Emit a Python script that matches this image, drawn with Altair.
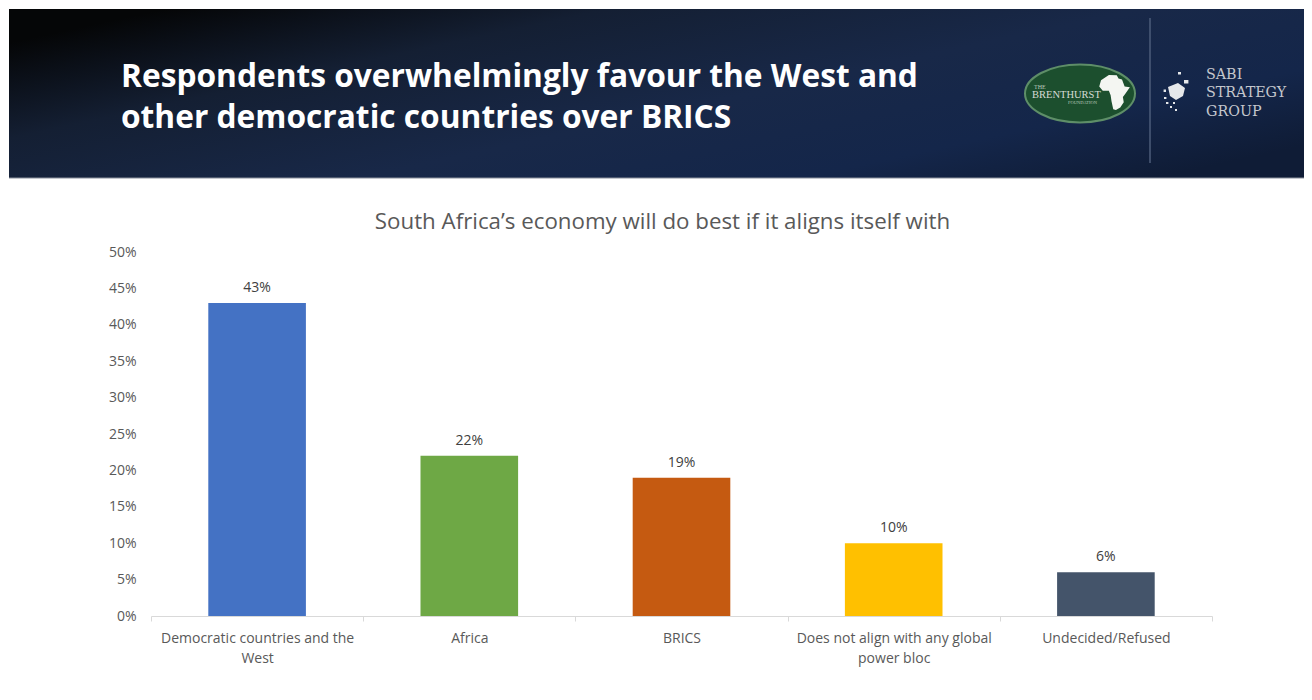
import altair as alt
import pandas as pd

categories = ["Democratic countries and the West", "Africa", "BRICS",
              "Does not align with any global power bloc", "Undecided/Refused"]
values = [0.43, 0.22, 0.19, 0.10, 0.06]
colors = ["#4472c4", "#6ea845", "#c55a11", "#ffc000", "#44546a"]
y_ticks = [0, 0.05, 0.10, 0.15, 0.20, 0.25, 0.30, 0.35, 0.40, 0.45, 0.50]
headline = ["Respondents overwhelmingly favour the West and",
            "other democratic countries over BRICS"]
subtitle = "South Africa’s economy will do best if it aligns itself with"
sabi_lines = ["SABI", "STRATEGY", "GROUP"]

FONT = "Open Sans"
LEFT, TOP, PW, PH = 151, 252, 1061, 364


def X(v):
    return alt.value(v - LEFT)


def Y(v):
    return alt.value(v - TOP)


one = pd.DataFrame({"k": [0]})
df = pd.DataFrame({"category": categories, "value": values, "color": colors})

banner_grad = alt.Gradient(
    gradient="linear", x1=0, y1=0.2, x2=1, y2=0.8,
    stops=[
        alt.GradientStop(color="#050607", offset=0),
        alt.GradientStop(color="#0b1019", offset=0.1),
        alt.GradientStop(color="#141f33", offset=0.25),
        alt.GradientStop(color="#182848", offset=0.55),
        alt.GradientStop(color="#14264a", offset=0.8),
        alt.GradientStop(color="#0f1c36", offset=1),
    ],
)
banner = alt.Chart(one).mark_rect(color=banner_grad).encode(
    x=X(9), x2=X(1312), y=Y(9), y2=Y(178))
banner_edge = alt.Chart(one).mark_rule(color="#8a909c", strokeWidth=1).encode(
    x=X(9), x2=X(1312), y=Y(178))
divider = alt.Chart(one).mark_rule(color="#4d5c7a", strokeWidth=1.5).encode(
    x=X(1150), y=Y(18), y2=Y(163))


def banner_text(text, x, y, size, color="#ffffff", weight="normal", font=FONT, align="left"):
    return alt.Chart(one).mark_text(
        text=text, fontSize=size, color=color, fontWeight=weight, font=font,
        align=align, baseline="middle",
    ).encode(x=X(x), y=Y(y))


head1 = banner_text(headline[0], 121, 77, 31.7, weight="bold")
head2 = banner_text(headline[1], 121, 118, 31.7, weight="bold")

ELLIPSE = "M -1 0 A 1 0.527 0 1 1 1 0 A 1 0.527 0 1 1 -1 0 Z"
AFRICA = ("M -0.35 -1 L 0.1 -0.98 L 0.2 -0.8 L 0.4 -0.75 L 0.55 -0.35 L 0.85 -0.3 "
          "L 0.6 0.05 L 0.45 0.25 L 0.5 0.55 L 0.3 0.85 L 0.05 1 L -0.1 0.95 L -0.2 0.5 "
          "L -0.25 0.15 L -0.35 -0.1 L -0.7 -0.1 L -0.9 -0.35 L -0.8 -0.7 Z")
SABI_ICON = ("M -0.4 -0.25 L 0.1 -0.45 L 0.45 -0.2 L 0.35 0.2 L 0 0.4 L -0.3 0.2 Z "
             "M 0.1 -1 L 0.25 -1 L 0.25 -0.88 L 0.1 -0.88 Z "
             "M 0.4 -0.6 L 0.62 -0.6 L 0.62 -0.42 L 0.4 -0.42 Z "
             "M -0.62 -0.12 L -0.5 -0.12 L -0.5 0 L -0.62 0 Z "
             "M -0.6 0.25 L -0.48 0.25 L -0.48 0.35 L -0.6 0.35 Z "
             "M -0.5 0.5 L -0.38 0.5 L -0.38 0.6 L -0.5 0.6 Z "
             "M -0.3 0.7 L -0.2 0.7 L -0.2 0.8 L -0.3 0.8 Z "
             "M -0.15 0.5 L -0.05 0.5 L -0.05 0.6 L -0.15 0.6 Z "
             "M -0.05 0.85 L 0.05 0.85 L 0.05 0.95 L -0.05 0.95 Z")

ellipse = alt.Chart(one).mark_point(
    shape=ELLIPSE, size=12100, filled=True, fill="#1c4f2e", stroke="#5e8e68",
    strokeWidth=2, opacity=1).encode(x=X(1080), y=Y(93.5))
africa = alt.Chart(one).mark_point(
    shape=AFRICA, size=1225, filled=True, fill="#f4f6f2", opacity=1, strokeWidth=0
).encode(x=X(1115), y=Y(92.5))
brent0 = banner_text("THE", 1034, 87, 6, color="#b9c8bb", font="Liberation Serif")
brent1 = banner_text("BRENTHURST", 1032, 95, 10.5, color="#d5dcd5", font="Liberation Serif")
brent2 = banner_text("FOUNDATION", 1068, 103, 4.5, color="#b9c8bb", font="Liberation Serif")
sabi_icon = alt.Chart(one).mark_point(
    shape=SABI_ICON, size=1600, filled=True, fill="#e6e8ea", opacity=1, strokeWidth=0
).encode(x=X(1176), y=Y(92))
sabi = [banner_text(t, 1206, y, 14.3, color="#c4c7cd", font="DejaVu Serif")
        for t, y in zip(sabi_lines, [75, 93, 112])]

sub = banner_text(subtitle, 662.5, 222, 22.3, color="#595959", align="center")

label_expr = ("datum.label == 'Democratic countries and the West' ? ['Democratic countries and the','West'] : "
              "datum.label == 'Does not align with any global power bloc' ? ['Does not align with any global','power bloc'] : "
              "datum.label")

x_enc = alt.X(
    "category:N", sort=categories, title=None,
    scale=alt.Scale(paddingInner=0, paddingOuter=0),
    axis=alt.Axis(labelAngle=0, labelExpr=label_expr, labelFont=FONT, labelFontSize=14,
                  labelColor="#595959", labelPadding=10, labelLineHeight=20, labelLimit=260,
                  domainColor="#d9d9d9", tickColor="#d9d9d9", tickBand="extent", tickSize=5,
                  labelOverlap=False, grid=False),
)
y_enc = alt.Y(
    "value:Q", title=None, scale=alt.Scale(domain=[0, 0.5]),
    axis=alt.Axis(values=y_ticks, format=".0%", labelFont=FONT, labelFontSize=14,
                  labelColor="#595959", labelPadding=15, labelOverlap=False,
                  domain=False, ticks=False, grid=False),
)

bars = alt.Chart(df).mark_bar(width=alt.RelativeBandSize(band=0.46)).encode(
    x=x_enc, y=y_enc, color=alt.Color("color:N", scale=None))
bar_labels = alt.Chart(df).mark_text(
    font=FONT, fontSize=14, color="#404040", dy=-15, baseline="middle"
).encode(x=x_enc, y=y_enc, text=alt.Text("value:Q", format=".0%"))

layers = [banner, banner_edge, divider, head1, head2, ellipse, africa, brent0, brent1, brent2,
          sabi_icon, *sabi, sub, bars, bar_labels]

chart = alt.layer(*layers).properties(
    width=PW, height=PH,
    padding={"left": LEFT - 8, "top": TOP - 8, "right": 1296 - (LEFT - 8) - PW, "bottom": 64},
    autosize=alt.AutoSizeParams(type="none"),
    background="#ffffff",
).configure_view(stroke=None)

chart.save("out.html", embed_options={"renderer": "svg", "actions": False})
